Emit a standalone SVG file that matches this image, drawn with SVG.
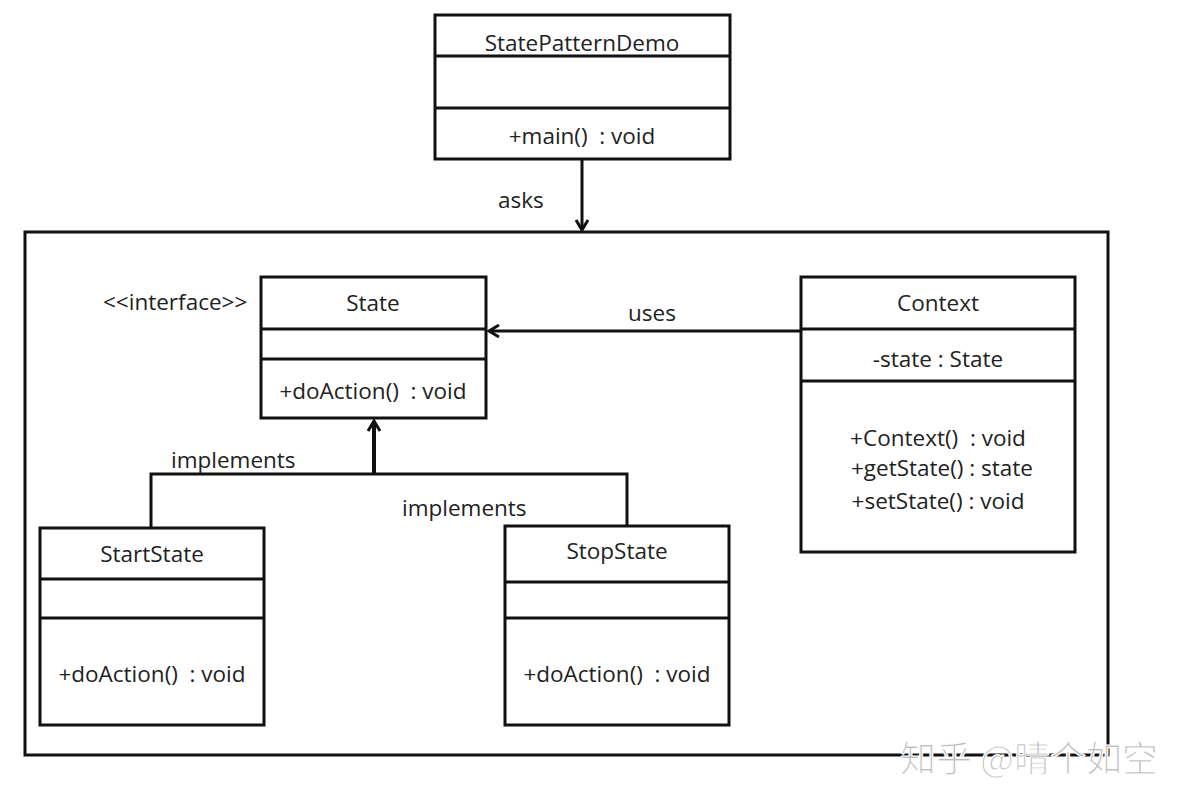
<svg xmlns="http://www.w3.org/2000/svg" width="1186" height="804" viewBox="0 0 1186 804">
<style>
.box{fill:#fff;stroke:#111;stroke-width:3}
.ln{stroke:#111;stroke-width:3;fill:none}
.t{font-family:"Open Sans","Noto Sans",sans-serif;font-size:22.5px;fill:#222;text-anchor:middle;white-space:pre}
.l{font-family:"Open Sans","Noto Sans",sans-serif;font-size:22.5px;fill:#222;white-space:pre}
.wm{font-family:"Noto Sans CJK SC","Noto Sans",sans-serif;font-size:36px;fill:#bdbdbd;stroke:#fff;stroke-width:1.2}
</style>
<defs>
<marker id="open" viewBox="0 0 14 14" refX="12" refY="7" markerWidth="14" markerHeight="14" markerUnits="userSpaceOnUse" orient="auto">
<path d="M2,1 L12,7 L2,13" fill="none" stroke="#111" stroke-width="3"/>
</marker>
</defs>
<rect width="1186" height="804" fill="#fff"/>
<g id="package">
<rect x="25" y="232" width="1083" height="523" fill="none" stroke="#111" stroke-width="3"/>
</g>
<g id="connectors">
<line class="ln" x1="582" y1="159" x2="582" y2="230" marker-end="url(#open)"/>
<text class="l" x="498" y="208">asks</text>
<line class="ln" x1="801" y1="331" x2="489" y2="331" marker-end="url(#open)"/>
<text class="l" x="628" y="321">uses</text>
<polyline class="ln" points="151,528 151,474 627,474 627,526"/>
<line x1="374" y1="474" x2="374" y2="421" stroke="#111" stroke-width="4" marker-end="url(#open)"/>
<text class="l" x="171" y="468">implements</text>
<text class="l" x="402" y="516">implements</text>
</g>
<g id="StatePatternDemo">
<rect class="box" x="435" y="15" width="295" height="144"/>
<line class="ln" x1="435" y1="56" x2="730" y2="56"/>
<line class="ln" x1="435" y1="108" x2="730" y2="108"/>
<text class="t" x="582" y="51">StatePatternDemo</text>
<text class="t" x="582" y="144">+main()  : void</text>
</g>
<g id="State">
<rect class="box" x="261" y="277" width="225" height="141"/>
<line class="ln" x1="261" y1="329" x2="486" y2="329"/>
<line class="ln" x1="261" y1="359" x2="486" y2="359"/>
<text class="t" x="373" y="311">State</text>
<text class="t" x="373" y="399">+doAction()  : void</text>
<text class="l" x="103" y="310">&lt;&lt;interface&gt;&gt;</text>
</g>
<g id="Context">
<rect class="box" x="801" y="277" width="274" height="275"/>
<line class="ln" x1="801" y1="329" x2="1075" y2="329"/>
<line class="ln" x1="801" y1="381" x2="1075" y2="381"/>
<text class="t" x="938" y="311">Context</text>
<text class="t" x="938" y="367">-state : State</text>
<text class="t" x="938" y="446">+Context()  : void</text>
<text class="t" x="942" y="476">+getState() : state</text>
<text class="t" x="938" y="509">+setState() : void</text>
</g>
<g id="StartState">
<rect class="box" x="40" y="528" width="224" height="197"/>
<line class="ln" x1="40" y1="579" x2="264" y2="579"/>
<line class="ln" x1="40" y1="618" x2="264" y2="618"/>
<text class="t" x="152" y="562">StartState</text>
<text class="t" x="152" y="682">+doAction()  : void</text>
</g>
<g id="StopState">
<rect class="box" x="505" y="526" width="224" height="199"/>
<line class="ln" x1="505" y1="582" x2="729" y2="582"/>
<line class="ln" x1="505" y1="618" x2="729" y2="618"/>
<text class="t" x="617" y="559">StopState</text>
<text class="t" x="617" y="682">+doAction()  : void</text>
</g>
<text class="wm" x="900" y="772">知乎 @晴个如空</text>
</svg>
